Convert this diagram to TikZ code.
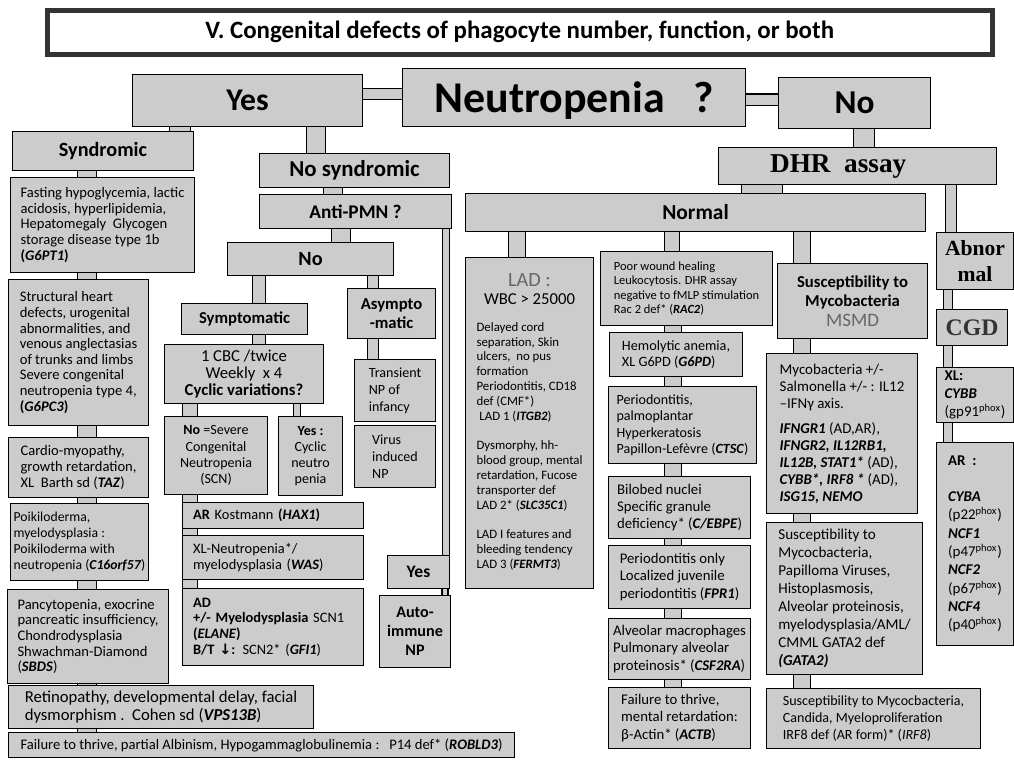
\documentclass[tikz,border=0pt]{standalone}
\usepackage{fontspec}
\setmainfont{Carlito}
\newfontfamily\timesfont{Liberation Serif}
\newfontfamily\arrowfont{DejaVu Sans}
\usepackage{xcolor}
\usepackage{tikz}
\usetikzlibrary{positioning,calc,backgrounds}

\definecolor{boxgray}{gray}{0.80}
\definecolor{softtext}{gray}{0.40}
\newlength\pxu
\setlength\pxu{0.02cm}
\newcommand\gene[1]{\textbf{\textit{#1}}}
\newcommand\fsz[2]{\fontsize{#1}{#2}\selectfont}
\newcommand\phox[1]{(p#1\textsuperscript{phox})}

\begin{document}
\begin{tikzpicture}[
    x=0.02cm, y=-0.02cm,
    spot/.code args={#1/#2/#3/#4}{%
      \pgfmathsetlengthmacro\spotw{(#3-#1)*\pxu}%
      \pgfmathsetlengthmacro\spoth{(#4-#2)*\pxu}%
      \edef\spotnext{\noexpand\tikzset{anchor=north west, at={(#1,#2)},
        minimum width=\spotw, minimum height=\spoth}}\spotnext},
    block/.style={rectangle, draw=black, line width=0.6pt, fill=boxgray, inner sep=1pt},
    note/.style={block, align=left},
    mid/.style={block, align=center},
    titlebox/.style={rectangle, draw=black!80, line width=2.6pt, fill=white,
      font=\bfseries\fsz{14.2}{16}},
    link/.style={draw=black, line width=0.6pt, double=boxgray, double distance=#1},
  ]
  \useasboundingbox (0,0) rectangle (1014,760);

  % Title
  \node[titlebox, spot=45/8/990/52] (title) {V. Congenital defects of phagocyte number, function, or both};

  % Top row
  \node[mid, spot=132/74/362/126, font=\bfseries\fsz{18}{19}] (yes) {Yes};
  \node[block, spot=402/68/745/126, font=\bfseries\fsz{25}{26}, text depth=0pt] (neutro) {Neutropenia\hspace{16pt}?\hspace{24pt}};
  \node[mid, spot=778/77/930/128, font=\bfseries\fsz{19}{20}] (no) {No};
  \node[mid, spot=718/147/996/184, font=\timesfont\bfseries\fsz{15.5}{16}] (dhr) {DHR\ \ assay\hspace{22pt}};

  % Syndromic column
  \node[mid, spot=12/131/193/170, font=\bfseries\fsz{11.5}{13}] (syn) {Syndromic};
  \node[note, spot=10/177/194/272, font=\fsz{8.3}{8.9}] (fasting) {Fasting hypoglycemia, lactic\\acidosis, hyperlipidemia,\\Hepatomegaly\ \ Glycogen\\storage disease type 1b\\\textbf{(\textit{G6PT1})}};
  \node[note, spot=8/279/148/425, font=\fsz{8.3}{8.9}] (struct) {Structural heart\\defects, urogenital\\abnormalities, and\\venous anglectasias\\of trunks and limbs\\Severe congenital\\neutropenia type 4,\\\textbf{(\textit{G6PC3})}};
  \node[note, spot=8/437/148/497, font=\fsz{8.3}{8.9}] (cardio) {Cardio-myopathy,\\growth retardation,\\XL\ \ Barth sd (\gene{TAZ})};
  \node[note, spot=10/503/148/580, font=\fsz{7.8}{9.2}] (poik) {Poikiloderma,\\myelodysplasia :\\Poikiloderma with\\neutropenia (\gene{C16orf57})};
  \node[note, spot=7/589/168/683, font=\fsz{8.3}{8.9}] (pancyt) {Pancytopenia, exocrine\\pancreatic insufficiency,\\Chondrodysplasia\\Shwachman-Diamond\\(\gene{SBDS})};
  \node[note, spot=8/685/313/728, font=\fsz{9.5}{9.8}] (retino) {Retinopathy, developmental delay, facial\\dysmorphism .\ \ Cohen sd (\gene{VPS13B})};
  \node[note, spot=8/732/514/757, font=\fsz{8.3}{9}] (failure) {Failure to thrive, partial Albinism, Hypogammaglobulinemia :\ \ \ P14 def* (\gene{ROBLD3})};

  % No syndromic branch
  \node[mid, spot=259/153/449/187, font=\bfseries\fsz{13}{14}] (nosyn) {No syndromic};
  \node[mid, spot=259/194/451/228, font=\bfseries\fsz{11}{12}] (antipmn) {Anti-PMN ?};
  \node[mid, spot=227/242/393/275, font=\bfseries\fsz{11.5}{12}] (noab) {No};
  \node[mid, spot=181/303/307/334, font=\bfseries\fsz{9.5}{11}] (sympt) {Symptomatic};
  \node[mid, spot=347/288/435/338, font=\bfseries\fsz{9.5}{10.5}] (asympt) {Asympto\\-matic};
  \node[mid, spot=164/344/323/403, font=\fsz{9.5}{9.6}] (cbc) {1 CBC /twice\\Weekly\ \ x 4\\\textbf{Cyclic variations?}};
  \node[mid, spot=164/416/267/494, font=\fsz{8}{9.2}] (scn) {\textbf{No} =Severe\\Congenital\\Neutropenia\\(SCN)};
  \node[mid, spot=278/416/342/495, font=\fsz{8}{9.2}] (cyclic) {\textbf{Yes :}\\Cyclic\\neutro\\penia};
  \node[note, spot=354/359/435/421, font=\fsz{8}{9.6}] (transient) {Transient\\NP of\\infancy};
  \node[note, spot=354/425/435/487, font=\fsz{8}{9.6}] (virus) {Virus\\induced\\NP};
  \node[note, spot=182/502/363/528, font=\fsz{8.2}{8.9}, text width=91pt] (kostmann) {\textbf{AR}\ Kostmann \textbf{(\textit{HAX1})}};
  \node[note, spot=182/535/363/579, font=\fsz{8.2}{8.9}, text width=91pt] (xlneut) {XL-Neutropenia*/\\myelodysplasia (\gene{WAS})};
  \node[note, spot=182/588/363/665, font=\fsz{8.2}{8.9}, text width=91pt] (adbox) {\textbf{AD}\\\textbf{+/- Myelodysplasia}\ SCN1\\\textbf{(\textit{ELANE})}\\\textbf{B/T {\arrowfont\bfseries ↓}:} SCN2*\ (\gene{GFI1})};
  \node[mid, spot=387/555/449/588, font=\bfseries\fsz{10}{11}] (yesb) {Yes};
  \node[mid, spot=379/595/450/667, font=\bfseries\fsz{9.2}{10.8}] (autoimm) {Auto-\\immune\\NP};

  % DHR branch
  \node[mid, spot=465/193/925/231, font=\bfseries\fsz{12.2}{13}] (normal) {Normal};
  \node[mid, spot=936/232/1013/289, font=\timesfont\bfseries\fsz{12.3}{15}] (abnormal) {Abnor\\mal};
  \node[mid, spot=465/257/593/588, font=\fsz{7.3}{8.5}] (lad) {{\color{softtext}\fsz{11.5}{14}LAD :}\\[2pt]
    {\fsz{9.5}{12}WBC > 25000}\\[8pt]
    \begin{tabular}{@{}l@{}}Delayed cord\\separation, Skin\\ulcers,\ \ no pus\\formation\\Periodontitis, CD18\\def (CMF*)\\\ LAD 1 (\gene{ITGB2})\\[8pt]
    Dysmorphy, hh-\\blood group, mental\\retardation, Fucose\\transporter def\\LAD 2* (\gene{SLC35C1})\\[8pt]
    LAD I features and\\bleeding tendency\\LAD 3 (\gene{FERMT3})\end{tabular}};
  \node[note, spot=600/251/772/325, font=\fsz{7.1}{8}] (poor) {Poor wound healing\\Leukocytosis. DHR assay\\negative to fMLP stimulation\\Rac 2 def* (\gene{RAC2})};
  \node[note, spot=609/332/742/376, font=\fsz{8.1}{9.2}] (hemol) {Hemolytic anemia,\\XL G6PD (\gene{G6PD})};
  \node[note, spot=608/386/756/463, font=\fsz{8}{9.4}] (perio) {Periodontitis,\\palmoplantar\\Hyperkeratosis\\Papillon-Lefèvre (\gene{CTSC})};
  \node[note, spot=608/476/750/538, font=\fsz{8.4}{9.9}] (bilobed) {Bilobed nuclei\\Specific granule\\deficiency* (\gene{C/EBPE})};
  \node[note, spot=608/545/750/608, font=\fsz{8.4}{9.9}] (perionly) {Periodontitis only\\Localized juvenile\\periodontitis (\gene{FPR1})};
  \node[note, spot=608/618/750/679, font=\fsz{8.4}{9.9}] (alveol) {Alveolar macrophages\\Pulmonary alveolar\\proteinosis* (\gene{CSF2RA})};
  \node[note, spot=608/687/750/748, font=\fsz{8.4}{9.9}] (actb) {Failure to thrive,\\mental retardation:\\β-Actin* (\gene{ACTB})};
  \node[mid, spot=777/263/927/338, font=\bfseries\fsz{9.5}{11}] (susc) {Susceptibility to\\Mycobacteria\\{\mdseries\color{softtext}\fsz{10.8}{12}MSMD}};
  \node[note, spot=766/353/917/513, font=\fsz{8.5}{9.6}] (myco) {Mycobacteria +/-\\Salmonella +/- : IL12\\–IFNγ axis.\\[5pt]
    \gene{IFNGR1} (AD,AR),\\\gene{IFNGR2, IL12RB1,}\\\gene{IL12B, STAT1*} (AD),\\\gene{CYBB*, IRF8 *} (AD),\\\gene{ISG15, NEMO}};
  \node[note, spot=766/522/922/674, font=\fsz{8.6}{10.2}] (gata) {Susceptibility to\\Mycocbacteria,\\Papilloma Viruses,\\Histoplasmosis,\\Alveolar proteinosis,\\myelodysplasia/AML/\\CMML GATA2 def\\\gene{(GATA2)}};
  \node[note, spot=766/688/980/748, font=\fsz{8}{9.6}] (irf8) {Susceptibility to Mycocbacteria,\\Candida, Myeloproliferation\\IRF8 def (AR form)* (\textit{IRF8})};
  \node[mid, spot=936/309/1007/345, font=\timesfont\bfseries\fsz{13.5}{15}, text=black!80] (cgd) {CGD};
  \node[note, spot=936/367/1013/422, font=\fsz{8.5}{10.4}] (xl) {\textbf{XL:}\\\gene{CYBB}\\(gp91\textsuperscript{phox})};
  \node[note, spot=936/442/1013/645, font=\fsz{8.5}{10.4}] (ar) {\textbf{AR\ \ :}\\[10pt]\gene{CYBA}\\\phox{22}\\\gene{NCF1}\\\phox{47}\\\gene{NCF2}\\\phox{67}\\\gene{NCF4}\\\phox{40}};

  % Connectors
  \begin{scope}[on background layer]
    \draw[link=5.6pt] (yes.east |- 0,94) -- (neutro.west |- 0,94);
    \draw[link=6.2pt] (neutro.east |- 0,100) -- (no.west |- 0,100);
    \draw[link=11.8pt] (no.south -| 864,0) -- (dhr.north -| 864,0);
    \draw[link=11.3pt] (yes.south -| 180,0) -- (syn.north -| 180,0);
    \draw[link=10.7pt] (yes.south -| 316,0) -- (nosyn.north -| 316,0);
    \draw[link=10.1pt] (nosyn.south -| 333,0) -- (antipmn.north -| 333,0);
    \draw[link=10.7pt] (antipmn.south -| 341,0) -- (noab.north -| 341,0);
    \draw[link=7.3pt] (noab.south -| 259,0) -- (sympt.north -| 259,0);
    \draw[link=5.6pt] (noab.south -| 373,0) -- (asympt.north -| 373,0);
    \draw[link=7.3pt] (sympt.south -| 259,0) -- (cbc.north -| 259,0);
    \draw[link=5.6pt] (asympt.south -| 373,0) -- (transient.north -| 373,0);
    \draw[link=7.9pt] (cbc.south -| 190,0) -- (scn.north -| 190,0);
    \draw[link=3.9pt] (cbc.south -| 297,0) -- (cyclic.north -| 297,0);
    \draw[link=7.9pt] (scn.south -| 190,0) -- (kostmann.north -| 190,0);
    \draw[link=7.9pt] (kostmann.south -| 190,0) -- (xlneut.north -| 190,0);
    \draw[link=7.9pt] (xlneut.south -| 190,0) -- (adbox.north -| 190,0);
    \draw[link=3.3pt] (antipmn.south -| 446,0) -- (yesb.north -| 446,0);
    \draw[link=2.8pt] (yesb.south -| 445,0) -- (autoimm.north -| 445,0);
    \draw[link=10.1pt] (syn.south -| 87,0) -- (fasting.north -| 87,0);
    \draw[link=10.1pt] (fasting.south -| 87,0) -- (struct.north -| 87,0);
    \draw[link=10.1pt] (struct.south -| 87,0) -- (cardio.north -| 87,0);
    \draw[link=10.1pt] (cardio.south -| 87,0) -- (poik.north -| 87,0);
    \draw[link=10.1pt] (poik.south -| 87,0) -- (pancyt.north -| 87,0);
    \draw[link=10.1pt] (pancyt.south -| 87,0) -- (retino.north -| 87,0);
    \draw[link=10.1pt] (retino.south -| 87,0) -- (failure.north -| 87,0);
    \draw[link=22.6pt] (dhr.south -| 762,0) -- (normal.north -| 762,0);
    \draw[link=5.6pt] (dhr.south -| 951,0) -- (abnormal.north -| 951,0);
    \draw[link=9.6pt] (normal.south -| 517,0) -- (lad.north -| 517,0);
    \draw[link=8.2pt] (normal.south -| 672,0) -- (poor.north -| 672,0);
    \draw[link=9pt] (poor.south -| 673,0) -- (hemol.north -| 673,0);
    \draw[link=9pt] (hemol.south -| 673,0) -- (perio.north -| 673,0);
    \draw[link=9pt] (perio.south -| 673,0) -- (bilobed.north -| 673,0);
    \draw[link=9pt] (bilobed.south -| 673,0) -- (perionly.north -| 673,0);
    \draw[link=9pt] (perionly.south -| 673,0) -- (alveol.north -| 673,0);
    \draw[link=9pt] (alveol.south -| 673,0) -- (actb.north -| 673,0);
    \draw[link=9.6pt] (normal.south -| 802,0) -- (susc.north -| 802,0);
    \draw[link=9.6pt] (susc.south -| 802,0) -- (myco.north -| 802,0);
    \draw[link=9.6pt] (myco.south -| 802,0) -- (gata.north -| 802,0);
    \draw[link=9.6pt] (gata.south -| 802,0) -- (irf8.north -| 802,0);
    \draw[link=4.5pt] (abnormal.south -| 948,0) -- (cgd.north -| 948,0);
    \draw[link=4.5pt] (cgd.south -| 948,0) -- (xl.north -| 948,0);
    \draw[link=4.5pt] (xl.south -| 948,0) -- (ar.north -| 948,0);
  \end{scope}
\end{tikzpicture}
\end{document}
